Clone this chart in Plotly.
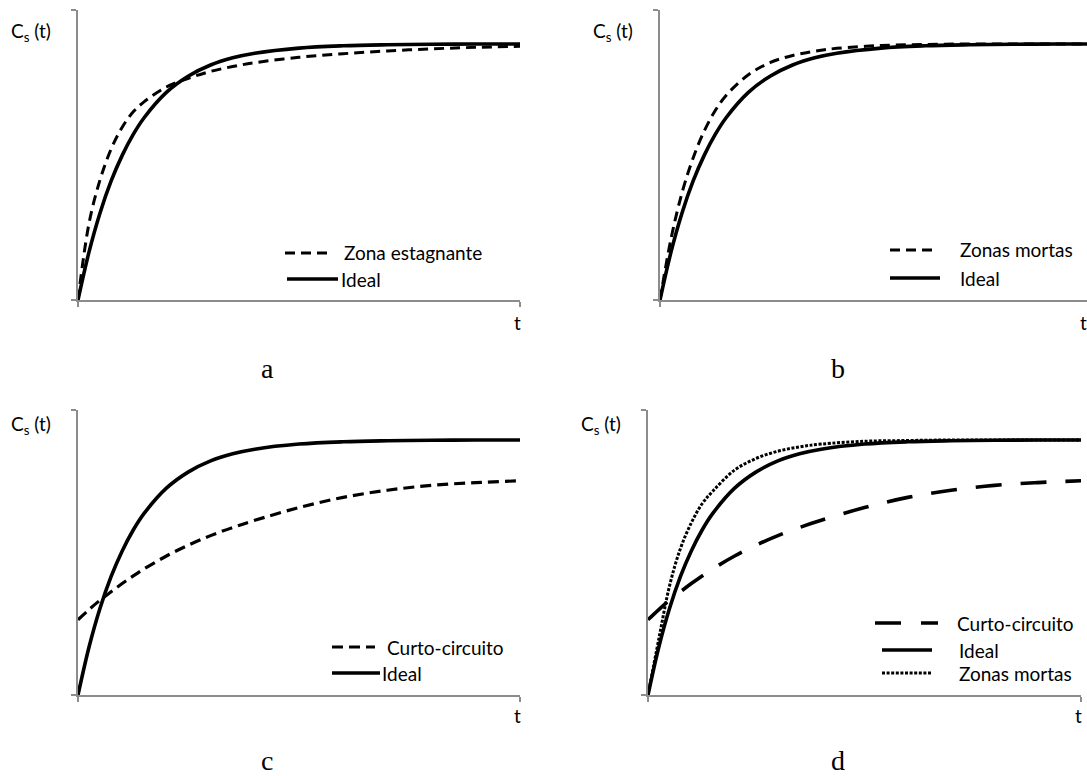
import plotly.graph_objects as go

# ---------------- data (normalised: plateau of ideal = 1) ----------------
t_vals = [0, 0.25, 0.5, 0.75, 1.0, 1.25, 1.5, 2.0, 2.5, 3.0, 3.5, 4.0, 5.0, 6.0, 7.0, 8.0, 9.0, 10.0]

ideal = [0, 0.188, 0.341, 0.465, 0.565, 0.647, 0.713, 0.811, 0.875, 0.918, 0.946, 0.964,
         0.984, 0.993, 0.997, 0.999, 1.0, 1.0]

zona_estagnante = [0, 0.30, 0.47, 0.59, 0.675, 0.735, 0.775, 0.832, 0.866, 0.893, 0.912, 0.927,
                   0.948, 0.962, 0.973, 0.981, 0.987, 0.991]

zonas_mortas_b = [0, 0.24, 0.42, 0.555, 0.66, 0.74, 0.80, 0.88, 0.928, 0.955, 0.972, 0.983,
                  0.994, 0.998, 1.0, 1.0, 1.0, 1.0]

zonas_mortas_d = [0, 0.22, 0.43, 0.575, 0.675, 0.75, 0.80, 0.882, 0.928, 0.956, 0.973, 0.984,
                  0.995, 0.998, 1.0, 1.0, 1.0, 1.0]

curto_circuito = [0.295, 0.335, 0.372, 0.405, 0.437, 0.467, 0.495, 0.545, 0.588, 0.625, 0.657, 0.685,
                  0.735, 0.775, 0.803, 0.822, 0.833, 0.84]

panel_letters = ["a", "b", "c", "d"]
y_label = "C<sub>s</sub> (t)"
x_label = "t"

# ---------------- layout helpers ----------------
W, H = 1087, 776
def px(x):
    return x / W
def py(y):
    return 1 - y / H

BLACK = "#000000"
AXIS = "#8c8c8c"
FONT = "Lato"

fig = go.Figure()

# panel geometry in pixels: (left, right, top, bottom, plateau_y, xmax)
panels = {
    "a": dict(l=78, r=520, t=10, b=300, plat=44, xmax=10.0),
    "b": dict(l=660, r=1087, t=10, b=300, plat=44, xmax=(1087 - 660) / 44.2),
    "c": dict(l=78, r=520, t=410, b=695, plat=440, xmax=10.0),
    "d": dict(l=648, r=1081, t=410, b=695, plat=440, xmax=10.0),
}

axis_ids = {"a": ("x", "y"), "b": ("x2", "y2"), "c": ("x3", "y3"), "d": ("x4", "y4")}

for key, g in panels.items():
    xa, ya = axis_ids[key]
    ymax = (g["b"] - g["t"]) / (g["b"] - g["plat"])
    xname = "xaxis" if xa == "x" else "xaxis" + xa[1:]
    yname = "yaxis" if ya == "y" else "yaxis" + ya[1:]
    common = dict(showline=True, linecolor=AXIS, linewidth=1.5, showgrid=False, zeroline=False,
                  ticks="outside", ticklen=5, tickwidth=1.5, tickcolor=AXIS, showticklabels=False,
                  fixedrange=True)
    fig.update_layout(**{
        xname: dict(domain=[px(g["l"]), px(g["r"])], range=[0, g["xmax"]], tickvals=[0, 10],
                    anchor=ya, **common),
        yname: dict(domain=[py(g["b"]), py(g["t"])], range=[0, ymax], tickvals=[0, ymax],
                    anchor=xa, **common),
    })


def add_line(key, y, width, dash, name):
    xa, ya = axis_ids[key]
    fig.add_trace(go.Scatter(x=t_vals, y=y, mode="lines", name=name, xaxis=xa, yaxis=ya,
                             line=dict(color=BLACK, width=width, dash=dash, shape="spline", smoothing=1.0),
                             showlegend=False, hoverinfo="skip"))

DASH_A = "10px,6px"
DASH_C = "11px,6px"
DASH_LONG = "26px,19px"
DOT = "3px,1.6px"

# panel a
add_line("a", zona_estagnante, 3.0, DASH_A, "Zona estagnante")
add_line("a", ideal, 3.6, "solid", "Ideal")
# panel b
add_line("b", zonas_mortas_b, 3.0, DASH_A, "Zonas mortas")
add_line("b", ideal, 3.6, "solid", "Ideal")
# panel c
add_line("c", curto_circuito, 3.2, DASH_C, "Curto-circuito")
add_line("c", ideal, 3.6, "solid", "Ideal")
# panel d
add_line("d", curto_circuito, 3.6, DASH_LONG, "Curto-circuito")
add_line("d", ideal, 3.6, "solid", "Ideal")
add_line("d", zonas_mortas_d, 3.0, DOT, "Zonas mortas")

# ---------------- legends (drawn as keys + text) ----------------
legend_items = [
    # (x0, x1, y, width, dash, text, text_x)
    (285, 330, 253, 3.0, DASH_A, "Zona estagnante", 342),
    (287, 338, 279, 3.6, "solid", "Ideal", 339),
    (890, 933, 250, 3.0, DASH_A, "Zonas mortas", 958),
    (890, 940, 278, 3.6, "solid", "Ideal", 958),
    (332, 375, 647, 3.2, DASH_C, "Curto-circuito", 385),
    (332, 380, 673, 3.6, "solid", "Ideal", 380),
    (875, 938, 623, 3.6, "26px,20px", "Curto-circuito", 955),
    (882, 932, 650, 3.6, "solid", "Ideal", 957),
    (882, 932, 673, 3.0, DOT, "Zonas mortas", 957),
]
annotations = []
shapes = []
for x0, x1, y, w, dash, text, tx in legend_items:
    shapes.append(dict(type="line", xref="paper", yref="paper", x0=px(x0), x1=px(x1), y0=py(y), y1=py(y),
                       line=dict(color=BLACK, width=w, dash=dash)))
    annotations.append(dict(text=text, x=px(tx), y=py(y), xref="paper", yref="paper",
                            xanchor="left", yanchor="middle", showarrow=False,
                            font=dict(family=FONT, size=19, color=BLACK)))

# y labels, t labels, panel letters
ylab_pos = {"a": (9, 32), "b": (591, 32), "c": (9, 425), "d": (579, 425)}
tlab_pos = {"a": (517, 322), "b": (1083, 322), "c": (517, 715), "d": (1078, 715)}
letter_pos = {"a": (267, 368), "b": (838, 368), "c": (267, 760), "d": (838, 760)}
for key, letter in zip(panels.keys(), panel_letters):
    x, y = ylab_pos[key]
    annotations.append(dict(text=y_label, x=px(x), y=py(y), xref="paper", yref="paper",
                            xanchor="left", yanchor="middle", showarrow=False,
                            font=dict(family=FONT, size=19, color=BLACK)))
    x, y = tlab_pos[key]
    annotations.append(dict(text=x_label, x=px(x), y=py(y), xref="paper", yref="paper",
                            xanchor="center", yanchor="middle", showarrow=False,
                            font=dict(family=FONT, size=19, color=BLACK)))
    x, y = letter_pos[key]
    annotations.append(dict(text=letter, x=px(x), y=py(y), xref="paper", yref="paper",
                            xanchor="center", yanchor="middle", showarrow=False,
                            font=dict(family="Liberation Serif", size=28, color=BLACK)))

fig.update_layout(width=W, height=H, margin=dict(l=0, r=0, t=0, b=0, pad=0),
                  paper_bgcolor="white", plot_bgcolor="white", showlegend=False,
                  annotations=annotations, shapes=shapes)

fig.write_html("out.html")
